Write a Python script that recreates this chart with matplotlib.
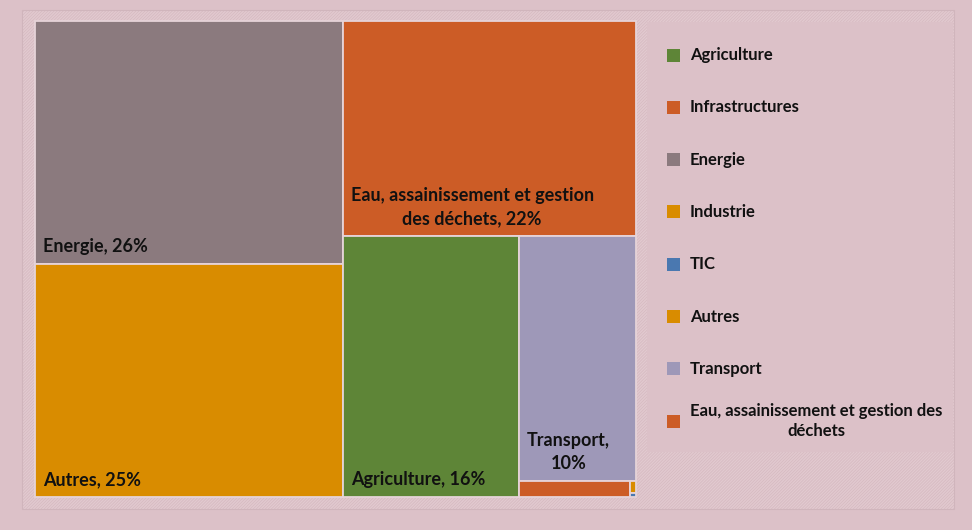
import textwrap
import matplotlib
matplotlib.use("Agg")
import matplotlib.pyplot as plt
from matplotlib.patches import Rectangle

# Répartition par secteur (%)
secteurs = ["Agriculture", "Infrastructures", "Energie", "Industrie", "TIC",
            "Autres", "Transport", "Eau, assainissement et gestion des déchets"]
parts = [16, 0.6, 26, 0.025, 0.01, 25, 10, 22]
couleurs = ["#5e8537", "#cc5c26", "#8b7a7e", "#d98c00", "#4a78b0",
            "#d98c00", "#9e98b8", "#cc5c26"]

BG = "#dcc1c8"
BASE = "#d7bbc2"
STRIPE = "#e2cad0"

plt.rcParams["font.family"] = ["Lato", "DejaVu Sans"]
plt.rcParams["hatch.linewidth"] = 0.9


def worst(row, side):
    s = sum(row)
    return max(max(side * side * r / (s * s), s * s / (side * side * r)) for r in row)


def squarify(vals, x, y, w, h):
    # squarified treemap, y grows downward
    rects = []
    vals = list(vals)
    while vals:
        side = min(w, h)
        row = [vals[0]]
        i = 1
        while i < len(vals) and worst(row + [vals[i]], side) <= worst(row, side):
            row.append(vals[i])
            i += 1
        s = sum(row)
        if w >= h:
            cw = s / h
            yy = y
            for r in row:
                rh = r / cw
                rects.append((x, yy, cw, rh))
                yy += rh
            x += cw
            w -= cw
        else:
            rh = s / w
            xx = x
            for r in row:
                rw = r / rh
                rects.append((xx, y, rw, rh))
                xx += rw
            y += rh
            h -= rh
        vals = vals[i:]
    return rects


fig = plt.figure(figsize=(9.72, 5.30), dpi=100)
fig.patch.set_facecolor(BG)
ax = fig.add_axes([0, 0, 1, 1])
ax.set_xlim(0, 972)
ax.set_ylim(530, 0)
ax.axis("off")

# cadre hachuré du graphique
ax.add_patch(Rectangle((22, 10), 932, 499, facecolor=BASE, edgecolor=STRIPE,
                       hatch="/" * 11, linewidth=0))
ax.add_patch(Rectangle((22, 10), 932, 499, facecolor="none", edgecolor="#d0b5bc",
                       linewidth=0.8))
# zone de légende
ax.add_patch(Rectangle((647, 22), 306, 430, facecolor=BG, edgecolor="none"))

# treemap
px, py, pw, ph = 35, 21, 601, 476
order = sorted(range(len(parts)), key=lambda k: -parts[k])
total = sum(parts)
areas = [parts[k] / total * pw * ph for k in order]
rects = squarify(areas, px, py, pw, ph)

for k, (x, y, w, h) in zip(order, rects):
    ax.add_patch(Rectangle((x, y), w, h, facecolor=couleurs[k],
                           edgecolor="#e6d3d8", linewidth=1.3))
    if w > 60 and h > 40:
        txt = textwrap.fill(f"{secteurs[k]}, {parts[k]:.0f}%", int(w / 9))
        ax.text(x + 8, y + h - 9, txt, ha="left", va="bottom",
                multialignment="center", fontsize=13, fontweight="bold",
                color="#111111", linespacing=1.45)

# légende
ly0, dy = 55, 52.3
for i, (nom, c) in enumerate(zip(secteurs, couleurs)):
    yc = ly0 + i * dy
    lab = textwrap.fill(nom, 34)
    ax.add_patch(Rectangle((667, yc - 6.5), 13, 13, facecolor=c, edgecolor="none"))
    ax.text(690, yc, lab, ha="left", va="center", multialignment="center",
            fontsize=12, fontweight="bold", color="#111111", linespacing=1.35)

fig.savefig("out.png", dpi=100, facecolor=BG)
